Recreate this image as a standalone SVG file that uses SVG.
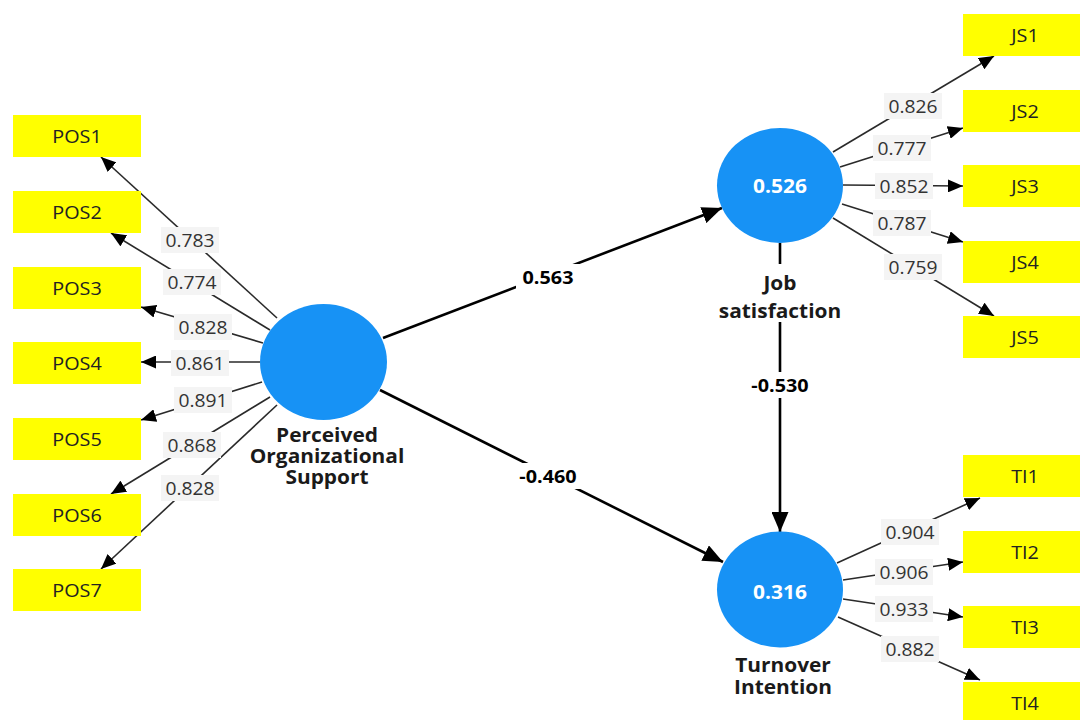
<svg xmlns="http://www.w3.org/2000/svg" width="1080" height="720" viewBox="0 0 1080 720">
<style>
text{font-family:"Open Sans","Noto Sans",sans-serif;text-anchor:middle;dominant-baseline:central}
.ind rect{fill:#ffff00}
.ind text{font-size:18px;fill:#222}
.lv ellipse{fill:#1792f5}
.lv .val{font-size:19px;font-weight:700;fill:#fff}
.name{font-size:19px;font-weight:700;fill:#1a1a1a}
.load{stroke:#2a2a2a;stroke-width:1.6;fill:none;marker-end:url(#ah)}
.path{stroke:#000;stroke-width:2.6;fill:none;marker-end:url(#ahb)}
.lbg{fill:#f4f4f4}
.wbg{fill:#fff}
.ltx{font-size:17.5px;fill:#333}
.ptx{font-size:18px;font-weight:700;fill:#000}
</style>
<defs>
<marker id="ah" markerUnits="userSpaceOnUse" markerWidth="15" markerHeight="13" refX="15" refY="6.5" orient="auto"><path d="M0,0 L15,6.5 L0,13 z" fill="#000"/></marker>
<marker id="ahb" markerUnits="userSpaceOnUse" markerWidth="20" markerHeight="17" refX="20" refY="8.5" orient="auto"><path d="M0,0 L20,8.5 L0,17 z" fill="#000"/></marker>
</defs>
<rect width="1080" height="720" fill="#fff"/>

<g id="connectors">
  <line class="load" x1="277" y1="318" x2="101" y2="157"/>
  <line class="load" x1="270" y1="330" x2="111" y2="233"/>
  <line class="load" x1="263" y1="343" x2="141" y2="307"/>
  <line class="load" x1="260" y1="362" x2="141" y2="362"/>
  <line class="load" x1="262" y1="382" x2="141" y2="420"/>
  <line class="load" x1="270" y1="397" x2="111" y2="494"/>
  <line class="load" x1="277" y1="405" x2="101" y2="569"/>
  <line class="load" x1="833" y1="152" x2="994" y2="56"/>
  <line class="load" x1="840" y1="167" x2="963" y2="128"/>
  <line class="load" x1="843" y1="185" x2="963" y2="186"/>
  <line class="load" x1="842" y1="204" x2="963" y2="242"/>
  <line class="load" x1="833" y1="218" x2="994" y2="316"/>
  <line class="load" x1="837" y1="563" x2="980" y2="498"/>
  <line class="load" x1="843" y1="580" x2="963" y2="562"/>
  <line class="load" x1="843" y1="599" x2="963" y2="617"/>
  <line class="load" x1="838" y1="617" x2="980" y2="680"/>
  <line class="path" x1="383" y1="338" x2="722" y2="208"/>
  <line class="path" x1="380" y1="390" x2="723" y2="562"/>
  <line class="path" x1="780" y1="243" x2="780" y2="532"/>

  <g>
    <rect class="lbg" x="161" y="227" width="58" height="26"/><text class="ltx" transform="translate(190 240) scale(1.1 1)">0.783</text>
    <rect class="lbg" x="163" y="269" width="58" height="26"/><text class="ltx" transform="translate(192 282) scale(1.1 1)">0.774</text>
    <rect class="lbg" x="174" y="314" width="58" height="26"/><text class="ltx" transform="translate(203 327) scale(1.1 1)">0.828</text>
    <rect class="lbg" x="171" y="350" width="58" height="26"/><text class="ltx" transform="translate(200 363) scale(1.1 1)">0.861</text>
    <rect class="lbg" x="174" y="387" width="58" height="26"/><text class="ltx" transform="translate(203 400) scale(1.1 1)">0.891</text>
    <rect class="lbg" x="163" y="432" width="58" height="26"/><text class="ltx" transform="translate(192 445) scale(1.1 1)">0.868</text>
    <rect class="lbg" x="161" y="475" width="58" height="26"/><text class="ltx" transform="translate(190 488) scale(1.1 1)">0.828</text>

    <rect class="lbg" x="884" y="93" width="58" height="26"/><text class="ltx" transform="translate(913 106) scale(1.1 1)">0.826</text>
    <rect class="lbg" x="873" y="135" width="58" height="26"/><text class="ltx" transform="translate(902 148) scale(1.1 1)">0.777</text>
    <rect class="lbg" x="875" y="173" width="58" height="26"/><text class="ltx" transform="translate(904 186) scale(1.1 1)">0.852</text>
    <rect class="lbg" x="873" y="210" width="58" height="26"/><text class="ltx" transform="translate(902 223) scale(1.1 1)">0.787</text>
    <rect class="lbg" x="884" y="254" width="58" height="26"/><text class="ltx" transform="translate(913 267) scale(1.1 1)">0.759</text>

    <rect class="lbg" x="881" y="519" width="58" height="26"/><text class="ltx" transform="translate(910 532) scale(1.1 1)">0.904</text>
    <rect class="lbg" x="875" y="559" width="58" height="26"/><text class="ltx" transform="translate(904 572) scale(1.1 1)">0.906</text>
    <rect class="lbg" x="875" y="596" width="58" height="26"/><text class="ltx" transform="translate(904 609) scale(1.1 1)">0.933</text>
    <rect class="lbg" x="881" y="636" width="58" height="26"/><text class="ltx" transform="translate(910 649) scale(1.1 1)">0.882</text>
  </g>
  <g>
    <rect class="wbg" x="516" y="264" width="64" height="26"/><text class="ptx" transform="translate(548 277) scale(1.1 1)">0.563</text>
    <rect class="wbg" x="511" y="463" width="74" height="26"/><text class="ptx" transform="translate(548 476) scale(1.1 1)">-0.460</text>
    <rect class="wbg" x="743" y="372" width="74" height="26"/><text class="ptx" transform="translate(780 385) scale(1.1 1)">-0.530</text>
  </g>
</g>

<g id="POS1" class="ind"><rect x="13" y="115" width="128" height="42"/><text transform="translate(77 136) scale(1.1 1)">POS1</text></g>
<g id="POS2" class="ind"><rect x="13" y="191" width="128" height="42"/><text transform="translate(77 212) scale(1.1 1)">POS2</text></g>
<g id="POS3" class="ind"><rect x="13" y="267" width="128" height="42"/><text transform="translate(77 288) scale(1.1 1)">POS3</text></g>
<g id="POS4" class="ind"><rect x="13" y="342" width="128" height="42"/><text transform="translate(77 363) scale(1.1 1)">POS4</text></g>
<g id="POS5" class="ind"><rect x="13" y="418" width="128" height="42"/><text transform="translate(77 439) scale(1.1 1)">POS5</text></g>
<g id="POS6" class="ind"><rect x="13" y="494" width="128" height="42"/><text transform="translate(77 515) scale(1.1 1)">POS6</text></g>
<g id="POS7" class="ind"><rect x="13" y="569" width="128" height="42"/><text transform="translate(77 590) scale(1.1 1)">POS7</text></g>

<g id="JS1" class="ind"><rect x="963" y="14" width="125" height="42"/><text transform="translate(1025 35) scale(1.1 1)">JS1</text></g>
<g id="JS2" class="ind"><rect x="963" y="90" width="125" height="42"/><text transform="translate(1025 111) scale(1.1 1)">JS2</text></g>
<g id="JS3" class="ind"><rect x="963" y="165" width="125" height="42"/><text transform="translate(1025 186) scale(1.1 1)">JS3</text></g>
<g id="JS4" class="ind"><rect x="963" y="241" width="125" height="42"/><text transform="translate(1025 262) scale(1.1 1)">JS4</text></g>
<g id="JS5" class="ind"><rect x="963" y="316" width="125" height="42"/><text transform="translate(1025 337) scale(1.1 1)">JS5</text></g>

<g id="TI1" class="ind"><rect x="963" y="455" width="125" height="42"/><text transform="translate(1025 476) scale(1.1 1)">TI1</text></g>
<g id="TI2" class="ind"><rect x="963" y="531" width="125" height="42"/><text transform="translate(1025 552) scale(1.1 1)">TI2</text></g>
<g id="TI3" class="ind"><rect x="963" y="606" width="125" height="42"/><text transform="translate(1025 627) scale(1.1 1)">TI3</text></g>
<g id="TI4" class="ind"><rect x="963" y="682" width="125" height="42"/><text transform="translate(1025 703) scale(1.1 1)">TI4</text></g>

<g id="POS" class="lv">
  <ellipse cx="323.5" cy="362" rx="63.5" ry="58"/>
  <text class="name" transform="translate(327 435) scale(1.1 1)">Perceived</text>
  <text class="name" transform="translate(327 456) scale(1.1 1)">Organizational</text>
  <text class="name" transform="translate(327 477) scale(1.1 1)">Support</text>
</g>
<g id="JS" class="lv">
  <ellipse cx="780" cy="185.5" rx="63" ry="57.5"/>
  <text class="val" transform="translate(780 186) scale(1.1 1)">0.526</text>
  <rect class="wbg" x="712" y="264" width="136" height="58"/>
  <text class="name" transform="translate(780 283) scale(1.1 1)">Job</text>
  <text class="name" transform="translate(780 311) scale(1.1 1)">satisfaction</text>
</g>
<g id="TI" class="lv">
  <ellipse cx="780" cy="589.5" rx="63" ry="58"/>
  <text class="val" transform="translate(780 592) scale(1.1 1)">0.316</text>
  <text class="name" transform="translate(783 665) scale(1.1 1)">Turnover</text>
  <text class="name" transform="translate(783 687) scale(1.1 1)">Intention</text>
</g>
</svg>
